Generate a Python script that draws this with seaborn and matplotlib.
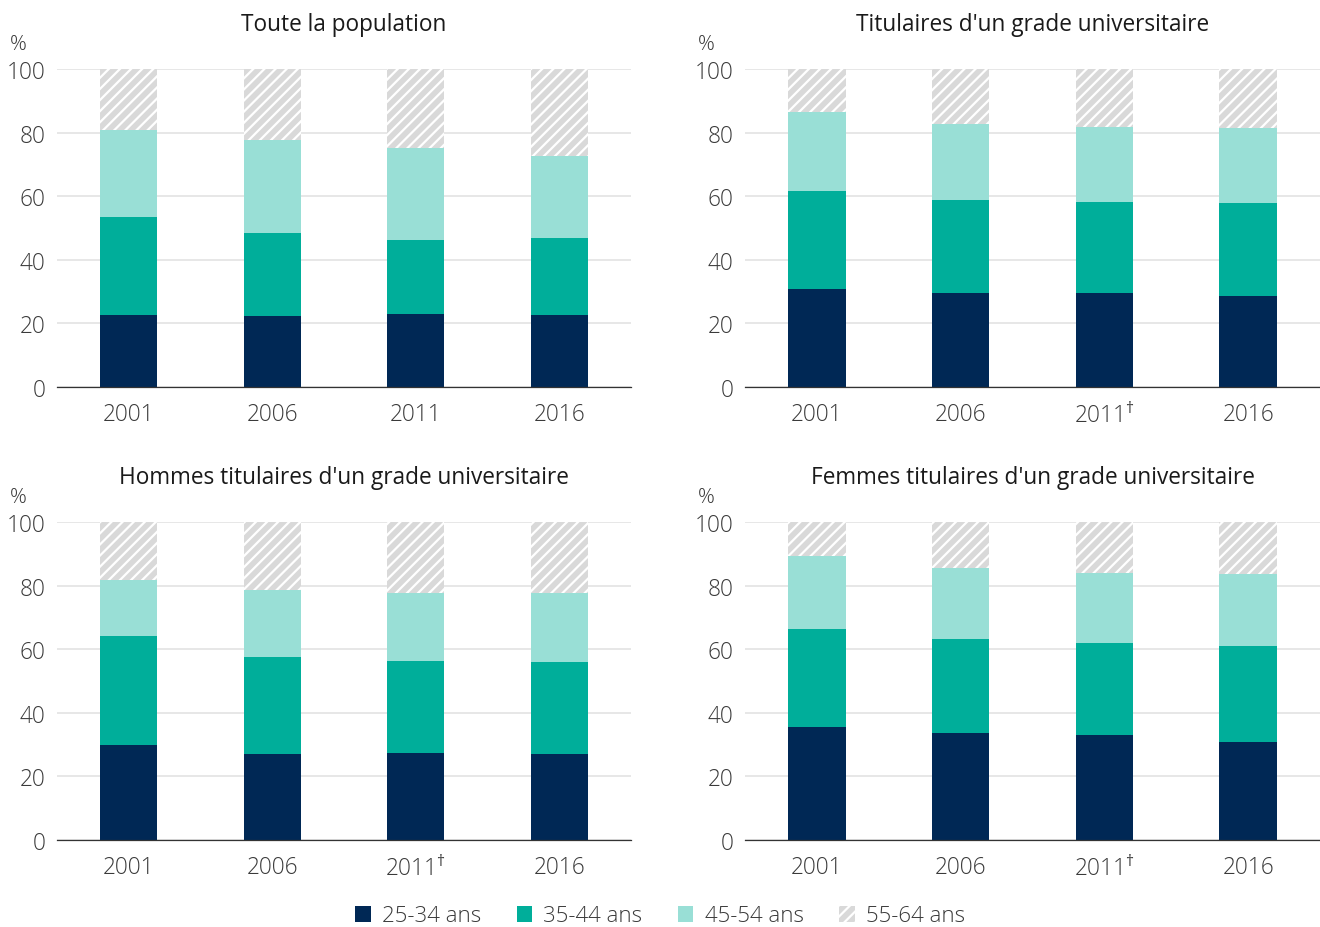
import matplotlib
matplotlib.use("Agg")
import matplotlib.pyplot as plt
from matplotlib.patches import Patch
import seaborn as sns

# data (% of each group, by age band)
years = ["2001", "2006", "2011", "2016"]
years_dag = ["2001", "2006", "2011$^{\\dagger}$", "2016"]
age_groups = ["25-34 ans", "35-44 ans", "45-54 ans", "55-64 ans"]

titles = ["Toute la population",
          "Titulaires d'un grade universitaire",
          "Hommes titulaires d'un grade universitaire",
          "Femmes titulaires d'un grade universitaire"]

all_25_34 = [22.6, 22.3, 23.0, 22.6]
all_35_44 = [30.9, 26.1, 23.2, 24.3]
all_45_54 = [27.3, 29.3, 29.0, 25.7]
all_55_64 = [19.2, 22.3, 24.8, 27.4]

uni_25_34 = [30.8, 29.6, 29.6, 28.6]
uni_35_44 = [30.8, 29.2, 28.6, 29.3]
uni_45_54 = [24.9, 23.9, 23.6, 23.5]
uni_55_64 = [13.5, 17.3, 18.2, 18.6]

men_25_34 = [29.9, 27.0, 27.4, 27.0]
men_35_44 = [34.3, 30.5, 28.9, 29.0]
men_45_54 = [17.6, 21.1, 21.4, 21.7]
men_55_64 = [18.2, 21.4, 22.3, 22.3]

women_25_34 = [35.5, 33.6, 33.0, 30.8]
women_35_44 = [30.9, 29.6, 28.9, 30.2]
women_45_54 = [22.9, 22.3, 22.1, 22.6]
women_55_64 = [10.7, 14.5, 16.0, 16.4]

panels = [
    (titles[0], years, [all_25_34, all_35_44, all_45_54, all_55_64]),
    (titles[1], years_dag, [uni_25_34, uni_35_44, uni_45_54, uni_55_64]),
    (titles[2], years_dag, [men_25_34, men_35_44, men_45_54, men_55_64]),
    (titles[3], years_dag, [women_25_34, women_35_44, women_45_54, women_55_64]),
]

colors = ["#002855", "#00ae9a", "#99dfd6", "#d9d9d9"]
text_color = "#3a3a3a"

sns.set_style("white")
plt.rcParams["font.family"] = ["Open Sans", "DejaVu Sans"]
plt.rcParams["mathtext.fontset"] = "custom"
plt.rcParams["mathtext.rm"] = "Open Sans"
plt.rcParams["hatch.color"] = "white"
plt.rcParams["hatch.linewidth"] = 1.6

W, H = 1320, 928
fig = plt.figure(figsize=(W / 100, H / 100), dpi=100)

# axes boxes in pixels: left, top, right, bottom
boxes = [(57, 70, 631, 388), (745, 70, 1320, 388),
         (57, 523, 631, 841), (745, 523, 1320, 841)]

for (title, labels, series), (l, t, r, b) in zip(panels, boxes):
    ax = fig.add_axes([l / W, 1 - b / H, (r - l) / W, (b - t) / H])

    # stacked bars: draw cumulative totals from the top down
    cums = []
    run = [0.0] * len(labels)
    for s in series:
        run = [p + q for p, q in zip(run, s)]
        cums.append(run)

    for i in range(len(series) - 1, -1, -1):
        kw = dict(color=colors[i], linewidth=0)
        if i == 3:
            kw.update(hatch="///", edgecolor="white")
        sns.barplot(x=labels, y=cums[i], order=labels, width=0.4, saturation=1,
                    errorbar=None, ax=ax, **kw)

    ax.set_ylim(0, 100)
    ax.set_xlim(-0.5, len(labels) - 0.5)
    ax.set_yticks([0, 20, 40, 60, 80, 100])
    ax.yaxis.grid(True, color="#e3e3e3", linewidth=1.2)
    ax.set_axisbelow(True)
    for side in ["left", "right", "top"]:
        ax.spines[side].set_visible(False)
    ax.spines["bottom"].set_color("#333333")
    ax.spines["bottom"].set_linewidth(0.9)

    ax.set_xticks([x - 0.5 for x in range(len(labels) + 1)], minor=True)
    ax.tick_params(axis="x", which="minor", length=7, width=0.9, color="#333333")
    ax.tick_params(axis="x", which="major", length=0, pad=11,
                   labelsize=16.3, labelcolor=text_color)
    ax.tick_params(axis="y", length=0, pad=8.5, labelsize=16.3, labelcolor=text_color)
    for lab in ax.get_xticklabels() + ax.get_yticklabels():
        lab.set_fontweight("light")
    ax.set_xlabel("")
    ax.set_ylabel("")

    ax.text(0.5, 1 + 45 / (b - t), title, transform=ax.transAxes,
            ha="center", va="center", fontsize=16.3, color="#1a1a1a")
    ax.text(-39 / (r - l), 1 + 25 / (b - t), "%", transform=ax.transAxes,
            ha="center", va="center", fontsize=15, color=text_color,
            fontweight="light")

handles = [Patch(facecolor=colors[0], linewidth=0),
           Patch(facecolor=colors[1], linewidth=0),
           Patch(facecolor=colors[2], linewidth=0),
           Patch(facecolor=colors[3], edgecolor="white", hatch="///", linewidth=0)]
leg = fig.legend(handles, age_groups, loc="center", bbox_to_anchor=(0.5, 1 - 917 / H),
                 ncol=4, frameon=False, fontsize=16, handlelength=0.7,
                 handleheight=0.7, handletextpad=0.5, columnspacing=1.6,
                 labelcolor=text_color)
for txt in leg.get_texts():
    txt.set_fontweight("light")

fig.savefig("out.png", dpi=100)
